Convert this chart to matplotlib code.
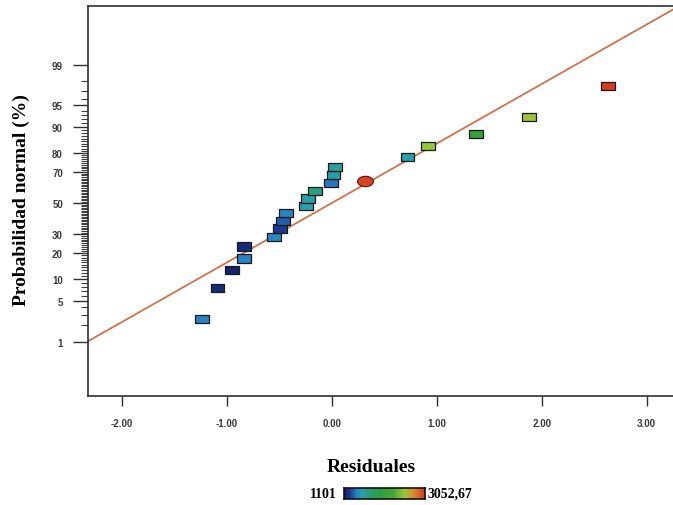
import numpy as np
import matplotlib
matplotlib.use("Agg")
import matplotlib.pyplot as plt
from matplotlib.colors import LinearSegmentedColormap, Normalize
from statistics import NormalDist

# ---- data ----
residuals = [-1.236, -1.088, -0.950, -0.833, -0.833, -0.548, -0.490, -0.465, -0.433,
             -0.243, -0.227, -0.157, -0.005, 0.017, 0.033, 0.722, 0.916, 1.373,
             1.878, 2.633]
probability = [2.6, 7.7, 13.0, 17.6, 23.3, 28.2, 33.5, 38.1, 43.1,
               48.2, 53.1, 58.0, 63.3, 68.1, 72.9, 77.9, 83.0, 87.6,
               92.6, 97.5]
response = [1394, 1179, 1140, 1394, 1179, 1413, 1238, 1316, 1394,
            1530, 1569, 1687, 1374, 1550, 1608, 1530, 2545, 2077,
            2584, 3052.67]
highlight_residual = [0.319]
highlight_probability = [64.2]
highlight_response = [3014]

resp_min, resp_max = 1101, 3052.67
major_probs = [1, 5, 10, 20, 30, 50, 70, 80, 90, 95, 99]
x_ticks = [-2.0, -1.0, 0.0, 1.0, 2.0, 3.0]
line_x = [-2.32, 3.26]

nd = NormalDist()
def z(p):
    return nd.inv_cdf(p / 100.0)

cmap = LinearSegmentedColormap.from_list("de", [
    (0.00, "#121a5c"), (0.08, "#1e3c96"), (0.15, "#2a84c4"),
    (0.22, "#2a9eb0"), (0.32, "#2a9e70"), (0.45, "#2e9e40"),
    (0.62, "#4aa83a"), (0.75, "#9cc83a"), (0.86, "#d88c30"),
    (1.00, "#d83a22")])
norm = Normalize(resp_min, resp_max)

fig = plt.figure(figsize=(6.73, 5.06), dpi=100)
ax = fig.add_axes([88/673, 1-397/506, 586/673, 390/506])
ax.set_xlim(-2.32, 3.26)
ax.set_ylim(-3.24, 3.31)

# fitted line
ax.plot(line_x, line_x, color="#d4704c", lw=1.3, zorder=2)

rect = [(-1, -0.6), (1, -0.6), (1, 0.6), (-1, 0.6), (-1, -0.6)]
ax.scatter(residuals, [z(p) for p in probability], c=response, cmap=cmap, norm=norm,
           marker=rect, s=95, edgecolors="#1a1a1a", linewidths=0.9, zorder=3)
th = np.linspace(0, 2*np.pi, 40)
ell = list(zip(np.cos(th), 0.65*np.sin(th)))
ax.scatter(highlight_residual, [z(p) for p in highlight_probability], c=highlight_response,
           cmap=cmap, norm=norm, marker=ell, s=130, edgecolors="#6a1a10",
           linewidths=0.9, zorder=4)

# axes styling
for sp in ax.spines.values():
    sp.set_color("#303030")
    sp.set_linewidth(1.2)

ax.set_xticks(x_ticks)
ax.set_xticklabels([f"{v:.2f}" for v in x_ticks], fontsize=7, fontweight="bold",
                   color="#3a3a3a", family="Liberation Sans")
ax.tick_params(axis="x", direction="out", length=7, width=1, color="#303030", pad=9)

ax.set_yticks([z(p) for p in major_probs])
ax.set_yticklabels([str(p) for p in major_probs], fontsize=7, fontweight="bold",
                   color="#3a3a3a", family="Liberation Sans")
minor = [z(p) for p in range(1, 100) if p not in major_probs]
ax.set_yticks(minor, minor=True)
ax.tick_params(axis="y", which="major", direction="out", length=11, width=1,
               color="#303030", pad=7)
ax.tick_params(axis="y", which="minor", direction="out", length=5, width=0.8,
               color="#404040")

ax.set_xlabel("Residuales", fontsize=14, fontweight="bold", family="Liberation Serif")
ax.set_ylabel("Probabilidad normal (%)", fontsize=14, fontweight="bold",
              family="Liberation Serif")
ax.xaxis.set_label_coords((371-88)/586, -(459-397)/390)
ax.yaxis.set_label_coords(-(88-30)/586, (397-200)/390)

# colour legend bar
cax = fig.add_axes([344/673, 1-500/506, 81/673, 11/506])
grad = np.linspace(resp_min, resp_max, 256).reshape(1, -1)
cax.imshow(grad, aspect="auto", cmap=cmap, norm=norm)
cax.set_xticks([]); cax.set_yticks([])
for sp in cax.spines.values():
    sp.set_color("#101010"); sp.set_linewidth(1.2)
fig.text(337/673, 1-494.5/506, "1101", ha="right", va="center", fontsize=10,
         fontweight="bold", family="Liberation Serif")
fig.text(428/673, 1-494.5/506, "3052,67", ha="left", va="center", fontsize=10,
         fontweight="bold", family="Liberation Serif")

fig.savefig("out.png", dpi=100)
